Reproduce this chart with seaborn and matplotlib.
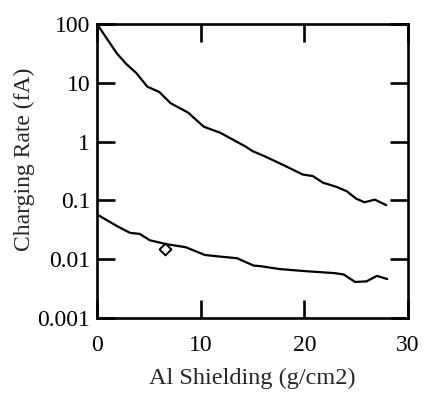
import numpy as np
import pandas as pd
import matplotlib
matplotlib.use("Agg")
import matplotlib.pyplot as plt
from matplotlib.ticker import FixedLocator, FixedFormatter, NullLocator
import seaborn as sns

# values
upper_x = [0.0, 1.9, 2.8, 3.8, 4.85, 6.0, 7.1, 8.8, 10.3, 11.9, 14.3, 15.0,
           16.2, 18.1, 19.85, 20.8, 21.8, 23.1, 24.1, 25.0, 25.8, 26.8, 27.9]
upper_y = [100, 31.9, 21.1, 14.6, 8.6, 7.0, 4.5, 3.1, 1.79, 1.41, 0.83, 0.69,
           0.56, 0.39, 0.275, 0.26, 0.20, 0.17, 0.143, 0.107, 0.093, 0.103, 0.083]

lower_x = [0.05, 2.0, 3.2, 4.1, 5.1, 6.7, 8.55, 10.4, 11.6, 13.5, 15.1, 15.8,
           17.6, 19.9, 22.9, 23.8, 24.9, 26.0, 27.0, 28.0]
lower_y = [0.057, 0.036, 0.028, 0.027, 0.021, 0.018, 0.016, 0.0118, 0.0112,
           0.0104, 0.0078, 0.0076, 0.0068, 0.0063, 0.0058, 0.0055, 0.0041,
           0.0042, 0.0052, 0.0046]

point_x = [6.6]
point_y = [0.0149]

xticks = [0, 10, 20, 30]
yticks = [0.001, 0.01, 0.1, 1, 10, 100]
ytick_labels = ["0.001", "0.01", "0.1", "1", "10", "100"]

df_up = pd.DataFrame({"x": upper_x, "y": upper_y})
df_lo = pd.DataFrame({"x": lower_x, "y": lower_y})

sns.set_style("ticks")
plt.rcParams["font.family"] = ["Liberation Serif", "DejaVu Serif"]

fig = plt.figure(figsize=(4.26, 3.99), dpi=100)
# axes box: left 97px, right 408px, top 24px, bottom 318px
ax = fig.add_axes([97 / 426, 81 / 399, 311 / 426, 294 / 399])

sns.lineplot(data=df_up, x="x", y="y", ax=ax, color="black", linewidth=1.6)
sns.lineplot(data=df_lo, x="x", y="y", ax=ax, color="black", linewidth=1.6)
ax.scatter(point_x, point_y, marker="D", s=36, facecolor="white",
           edgecolor="black", linewidth=1.4, zorder=3)

ax.set_yscale("log")
ax.set_xlim(0, 30)
ax.set_ylim(0.001, 100)

ax.xaxis.set_major_locator(FixedLocator(xticks))
ax.yaxis.set_major_locator(FixedLocator(yticks))
ax.yaxis.set_major_formatter(FixedFormatter(ytick_labels))
ax.yaxis.set_minor_locator(NullLocator())

for s in ax.spines.values():
    s.set_linewidth(1.9)
    s.set_color("black")

ax.tick_params(axis="both", direction="in", length=13, width=1.9,
               top=True, right=True, labelsize=17, colors="black")
ax.tick_params(axis="x", pad=12)
ax.tick_params(axis="y", pad=5)

ax.set_xlabel("Al Shielding (g/cm2)", fontsize=17.5, labelpad=9)
ax.set_ylabel("Charging Rate (fA)", fontsize=17)
ax.yaxis.set_label_coords(-0.2, 0.54)

fig.savefig("out.png", dpi=100)
